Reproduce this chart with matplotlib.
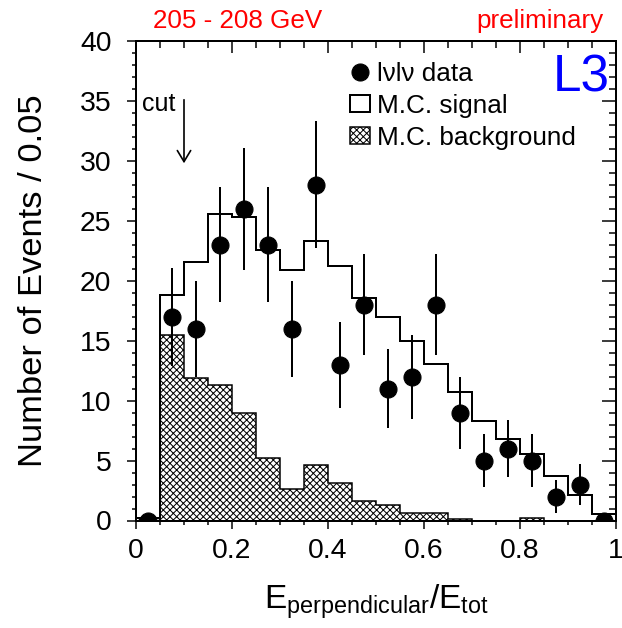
import matplotlib
matplotlib.use("Agg")
import matplotlib.pyplot as plt
from matplotlib.lines import Line2D
from matplotlib.patches import Patch
from matplotlib.ticker import MultipleLocator, FixedLocator, NullFormatter
import numpy as np

plt.rcParams["font.family"] = ["Liberation Sans", "DejaVu Sans"]
plt.rcParams["hatch.linewidth"] = 0.9

# ------------------------------------------------------------------------------
# data: 20 bins of width 0.05 in E_perp / E_tot
bin_edges = np.linspace(0.0, 1.0, 21)
mc_signal = [0.25, 18.8, 21.6, 25.6, 25.3, 22.6, 20.9, 23.3, 21.2, 18.55,
             17.0, 15.0, 13.05, 10.74, 8.28, 6.83, 5.58, 3.68, 2.09, 0.56]
mc_background = [0.2, 15.5, 11.9, 11.3, 9.0, 5.2, 2.65, 4.6, 3.15, 1.6,
                 1.3, 0.6, 0.6, 0.1, 0.0, 0.0, 0.2, 0.0, 0.0, 0.0]
data_counts = [0, 17, 16, 23, 26, 23, 16, 28, 13, 18,
               11, 12, 18, 9, 5, 6, 5, 2, 3, 0]
data_errors = [0, 4.1, 4.0, 4.8, 5.1, 4.8, 4.0, 5.3, 3.6, 4.2,
               3.3, 3.5, 4.2, 3.0, 2.2, 2.4, 2.2, 1.4, 1.7, 0]

x_ticks = [0.0, 0.2, 0.4, 0.6, 0.8, 1.0]
x_tick_labels = ["0", "0.2", "0.4", "0.6", "0.8", "1"]
legend_labels = ["lνlν data", "M.C. signal", "M.C. background"]
cut_value = 0.1

# ------------------------------------------------------------------------------
# figure (dpi 80 so that the hatch density matches)
dpi = 80
fig = plt.figure(figsize=(622 / dpi, 628 / dpi), dpi=dpi)
ax = fig.add_axes([136 / 622, 1 - 520.5 / 628, 480 / 622, 479.5 / 628])

centers = 0.5 * (bin_edges[:-1] + bin_edges[1:])

ax.stairs(mc_background, bin_edges, fill=True, facecolor="white",
          edgecolor="black", hatch="xxxx", lw=1.35, zorder=2)
ax.stairs(mc_signal, bin_edges, color="black", lw=1.8, zorder=3)
ax.errorbar(centers, data_counts, yerr=data_errors, fmt="o", color="black",
            ms=15.3, elinewidth=1.8, capsize=0, zorder=4)

ax.set_xlim(0, 1)
ax.set_ylim(0, 40)

for sp in ax.spines.values():
    sp.set_linewidth(1.8)

# bottom / left ticks point outwards
ax.xaxis.set_major_locator(FixedLocator(x_ticks))
ax.set_xticklabels(x_tick_labels)
ax.xaxis.set_minor_locator(MultipleLocator(0.05))
ax.yaxis.set_major_locator(MultipleLocator(5))
ax.yaxis.set_minor_locator(MultipleLocator(1))
ax.tick_params(axis="x", which="major", direction="out", length=7.2,
               width=1.35, labelsize=25.5, pad=9)
ax.tick_params(axis="x", which="minor", direction="out", length=3.6, width=1.35)
ax.tick_params(axis="y", which="major", direction="out", length=8.1,
               width=1.35, labelsize=25.5, pad=14)
ax.tick_params(axis="y", which="minor", direction="out", length=3.9, width=1.35)

# top / right ticks point inwards
secx = ax.secondary_xaxis("top")
secx.xaxis.set_major_locator(MultipleLocator(0.2))
secx.xaxis.set_minor_locator(MultipleLocator(0.05))
secx.xaxis.set_major_formatter(NullFormatter())
secx.tick_params(which="major", direction="in", length=10.8, width=1.35)
secx.tick_params(which="minor", direction="in", length=5.9, width=1.35)
secx.spines["top"].set_linewidth(1.8)

secy = ax.secondary_yaxis("right")
secy.yaxis.set_major_locator(MultipleLocator(5))
secy.yaxis.set_minor_locator(MultipleLocator(1))
secy.yaxis.set_major_formatter(NullFormatter())
secy.tick_params(which="major", direction="in", length=12.6, width=1.35)
secy.tick_params(which="minor", direction="in", length=6.3, width=1.35)
secy.spines["right"].set_linewidth(1.8)

ax.set_xlabel(r"$\mathregular{E_{perpendicular}/E_{tot}}$", fontsize=30,
              labelpad=16)
ax.set_ylabel("Number of Events / 0.05", fontsize=31, labelpad=28)

# legend
handles = [
    Line2D([], [], marker="o", ls="none", color="black", ms=15.3),
    Patch(facecolor="white", edgecolor="black", lw=1.8),
    Patch(facecolor="white", edgecolor="black", hatch="xxxx", lw=1.35),
]
ax.legend(handles, legend_labels, loc="upper left",
          bbox_to_anchor=(0.4458, 0.956), frameon=False, fontsize=23.5,
          handlelength=0.76, handleheight=0.65, handletextpad=0.26,
          labelspacing=0.3, borderpad=0, borderaxespad=0)

# cut arrow
ax.annotate("", xy=(cut_value, 29.8), xytext=(cut_value, 35.1),
            arrowprops=dict(arrowstyle="->,head_length=1.0,head_width=0.6",
                            lw=1.5, color="black", shrinkA=0, shrinkB=0))
ax.text(0.0125, 34.2, "cut", fontsize=22.5, va="baseline", ha="left")

ax.text(0.9875, 0.894, "L3", color="blue", fontsize=46, ha="right",
        va="baseline", transform=ax.transAxes)

fig.text(153 / 622, 1 - 28 / 628, "205 - 208 GeV", color="red",
         fontsize=23.4, ha="left", va="baseline")
fig.text(603 / 622, 1 - 28 / 628, "preliminary", color="red",
         fontsize=23.4, ha="right", va="baseline")

fig.savefig("out.png", dpi=dpi)
